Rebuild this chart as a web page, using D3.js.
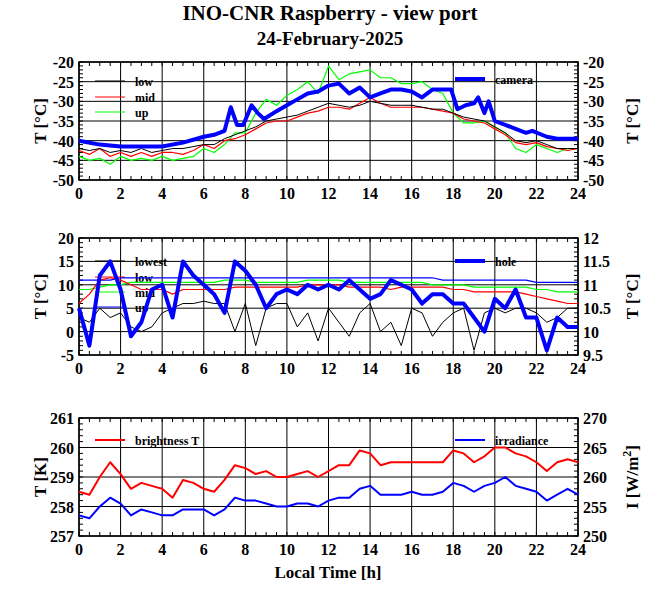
<!DOCTYPE html>
<html><head><meta charset="utf-8">
<script src="https://cdn.jsdelivr.net/npm/d3@7.9.0/dist/d3.min.js"></script>
<style>body{margin:0;background:#fff}text{font-family:"Liberation Serif","DejaVu Serif",serif;font-weight:bold}</style>
</head><body><svg id="c" width="660" height="595"></svg>
<script>
const hours = d3.range(0, 24.01, 0.5);

// panel 1: view port temperatures [°C]
const vpLow = [-42,-42.5,-42,-43,-42.5,-43,-42,-43,-42.5,-42,-42,-41.5,-41,-41,-39.5,-38.5,-37.5,-36.5,-35,-34.5,-34,-33.5,-32.5,-31.5,-30.5,-31,-31.5,-31,-30,-30.5,-31,-31,-31,-31.5,-32,-32,-33,-34,-34.5,-35,-36.5,-38,-40,-40.5,-40,-41,-42,-42,-42];
const vpMid = [-42.5,-43.5,-42,-44,-43,-44,-43,-44,-43,-43,-43.5,-42.5,-41,-42,-40,-39.5,-38.5,-37,-35.5,-35,-35,-34,-33,-32.5,-31.5,-31.5,-32,-30.5,-29,-30.5,-31.5,-31.5,-31.5,-31.5,-32,-32.5,-33,-34.5,-35,-35.5,-37,-38.5,-40.5,-41,-40.5,-41.5,-42,-42.5,-42];
const vpUp = [-44,-45,-44.5,-46,-44,-45,-44.5,-45,-44,-45,-44.5,-44,-42,-43,-41,-38,-38,-33,-29.5,-31,-28.5,-27,-25,-28,-21,-24.5,-23,-22.5,-22,-24,-24,-25.5,-25.5,-25,-27,-28,-33,-35.5,-35.5,-35,-36.5,-38,-42,-43,-41,-42,-43,-42,-42];
const camHours = [0,1,2,3,4,5,6,6.5,7,7.3,7.6,7.9,8.3,8.6,8.9,9.5,10,10.5,11,11.5,12,12.5,13,13.5,14,14.5,15,15.5,16,16.5,17,17.5,17.9,18.2,18.6,19,19.2,19.5,19.7,20,20.5,21,21.5,21.8,22.5,23,24];
const camera = [-40,-41,-41.5,-41.5,-41.5,-40.5,-39,-38.5,-37.5,-31.5,-36,-36,-31,-33,-34.5,-32.5,-31,-29.5,-28,-27.5,-26,-25.5,-28,-26.5,-29,-28,-27,-27,-27.5,-29,-27,-27,-27,-32,-31,-30.5,-29,-33,-30,-35,-36,-37,-38,-37.5,-39,-39.5,-39.5];

// panel 2: housing temperatures [°C], hole on right axis
const hsLowest = [3,2,5,3,4,1,0,1,4,5,6,6,6.5,6,6,0,6,-3,5,6,6,1,4,-2,5,2,-1,4,6,0,2,-3,5,4,-1,2,4,5,-4,4,5,4,5,5,4,2,3,5,5];
const hsLow = [6,8,11,11.5,11,10,9,9,9,8,9,9,9,9,9,9.5,9.5,9.5,9.5,9.5,9.5,9.5,10,10,10,10,9.5,9.5,9.5,9.5,9,9.5,9.5,9.5,9.5,9.5,9,9,8.5,8.5,8.5,8.5,8.5,8,7.5,7,6.5,6,6];
const hsMid = [9,9,9.5,10,10,10.5,10.5,10.5,10.5,10.5,10.5,10.5,10.5,10.5,11,11,11,10.5,10.5,10.5,10.5,10.5,11,11,11,11,10.5,10.5,10.5,10.5,10.5,10.5,10.5,10.5,10,10,10,10,9.5,9.5,9.5,9.5,9.5,9.5,9,9,8.5,8.5,8.5];
const hsUp = [11,11,11,11,11.5,11.5,11.5,11.5,11.5,11.5,11.5,11.5,11.5,11.5,11.5,11.5,11.5,11.5,11.5,11.5,11.5,11.5,11.5,11.5,11.5,11.5,11.5,11.5,11.5,11.5,11.5,11.5,11.5,11.5,11.5,11,11,11,11,11,11,11,11,11,10.5,10.5,10.5,10.5,10.5];
const hole = [10.5,9.7,11.2,11.5,10.9,9.9,10.2,10.9,11.0,10.3,11.5,11.2,11.0,10.8,10.4,11.5,11.3,11.0,10.5,10.8,10.9,10.8,11.0,10.9,11.0,10.9,11.1,10.9,10.7,10.8,11.1,11.0,10.9,10.6,10.8,10.8,10.6,10.6,10.3,10.0,10.7,10.5,10.9,10.3,10.3,9.6,10.3,10.1,10.1];

// panel 3: radiometer
const brightT = [258.5,258.4,259.0,259.5,259.1,258.6,258.8,258.7,258.6,258.3,258.9,258.8,258.6,258.5,258.9,259.4,259.3,259.1,259.2,259.0,259.0,259.1,259.2,259.0,259.2,259.4,259.4,259.9,259.8,259.4,259.5,259.5,259.5,259.5,259.5,259.5,259.9,259.8,259.5,259.7,260.0,260.0,259.8,259.7,259.5,259.2,259.5,259.6,259.5];
const irradiance = [253.5,253,255,256.5,255.5,253.5,254.5,254,253.5,253.5,254.5,254.5,254.5,253.5,254.5,256.5,256,256,255.5,255,255,255.5,255.5,255,256,256.5,256.5,258,258.5,257,257,257,257.5,257,257,257.5,259,258.5,257.5,258.5,259,260,258.5,258,257.5,256,257,258,257];

const xTicks = d3.range(0, 25, 2);
const svg = d3.select('#c');
const L = 79, R = 578;
const x = d3.scaleLinear().domain([0, 24]).range([L, R]);

svg.append('text').attr('x', 330).attr('y', 20).attr('text-anchor', 'middle').attr('font-size', 21).text('INO-CNR Raspberry - view port');
svg.append('text').attr('x', 330).attr('y', 45).attr('text-anchor', 'middle').attr('font-size', 19).text('24-February-2025');

function panel(top, bot, yl, yr, lStep, rStep, lMinor, rMinor, lLabel, rLabel) {
  const g = svg.append('g');
  const y = d3.scaleLinear().domain(yl).range([bot, top]);
  const y2 = d3.scaleLinear().domain(yr).range([bot, top]);
  // grid
  xTicks.forEach(t => g.append('line').attr('x1', x(t)).attr('x2', x(t)).attr('y1', top).attr('y2', bot).attr('stroke', '#000').attr('stroke-width', 1));
  d3.range(yl[0], yl[1] + 1e-6, lStep).forEach(t => g.append('line').attr('x1', L).attr('x2', R).attr('y1', y(t)).attr('y2', y(t)).attr('stroke', '#000'));
  // minor ticks
  d3.range(0, 24.01, 0.5).forEach(t => {
    g.append('line').attr('x1', x(t)).attr('x2', x(t)).attr('y1', bot).attr('y2', bot - 4).attr('stroke', '#000');
    g.append('line').attr('x1', x(t)).attr('x2', x(t)).attr('y1', top).attr('y2', top + 4).attr('stroke', '#000');
  });
  d3.range(yl[0], yl[1] + 1e-6, lMinor).forEach(t => g.append('line').attr('x1', L).attr('x2', L + 4).attr('y1', y(t)).attr('y2', y(t)).attr('stroke', '#000'));
  d3.range(yr[0], yr[1] + 1e-6, rMinor).forEach(t => g.append('line').attr('x1', R).attr('x2', R - 4).attr('y1', y2(t)).attr('y2', y2(t)).attr('stroke', '#000'));
  g.append('rect').attr('x', L).attr('y', top).attr('width', R - L).attr('height', bot - top).attr('fill', 'none').attr('stroke', '#000').attr('stroke-width', 1.5);
  // labels
  xTicks.forEach(t => g.append('text').attr('x', x(t)).attr('y', bot + 19).attr('text-anchor', 'middle').attr('font-size', 16).text(t));
  d3.range(yl[0], yl[1] + 1e-6, lStep).forEach(t => g.append('text').attr('x', L - 5).attr('y', y(t) + 6).attr('text-anchor', 'end').attr('font-size', 16).text(t));
  d3.range(yr[0], yr[1] + 1e-6, rStep).forEach(t => g.append('text').attr('x', R + 5).attr('y', y2(t) + 6).attr('font-size', 16).text(+t.toFixed(1)));
  const mid = (top + bot) / 2;
  g.append('text').attr('transform', `translate(46,${mid}) rotate(-90)`).attr('text-anchor', 'middle').attr('font-size', 17).text(lLabel);
  const rl = g.append('text').attr('transform', `translate(638,${mid}) rotate(-90)`).attr('text-anchor', 'middle').attr('font-size', 17);
  if (rLabel === 'I') {
    rl.append('tspan').text('I [W/m');
    rl.append('tspan').attr('dy', -7).attr('font-size', 12).text('2');
    rl.append('tspan').attr('dy', 7).text(']');
  } else rl.text(rLabel);
  return { g, y, y2 };
}

function legend(g, x0, yy, color, w, label) {
  g.append('line').attr('x1', x0).attr('x2', x0 + 30).attr('y1', yy).attr('y2', yy).attr('stroke', color).attr('stroke-width', w);
  g.append('text').attr('x', x0 + 40).attr('y', yy + 5).attr('font-size', 12).text(label);
}

function series(g, xs, ys, yScale, color, w) {
  const line = d3.line().x((d, i) => x(xs[i])).y(d => yScale(d));
  g.append('path').attr('d', line(ys)).attr('fill', 'none').attr('stroke', color).attr('stroke-width', w).attr('stroke-linejoin', 'round');
}

// panel 1
const p1 = panel(62, 180, [-50, -20], [-50, -20], 5, 5, 1, 1, 'T [°C]', 'T [°C]');
legend(p1.g, 95, 81, '#000', 1, 'low');
legend(p1.g, 95, 97, '#f00', 1, 'mid');
legend(p1.g, 95, 112, '#0f0', 1, 'up');
legend(p1.g, 455, 79, '#00f', 4, 'camera');
series(p1.g, hours, vpUp, p1.y, '#0f0', 1.2);
series(p1.g, hours, vpMid, p1.y, '#f00', 1.2);
series(p1.g, hours, vpLow, p1.y, '#000', 1);
series(p1.g, camHours, camera, p1.y, '#00f', 4);

// panel 2
const p2 = panel(238, 355, [-5, 20], [9.5, 12], 5, 0.5, 1, 0.1, 'T [°C]', 'T [°C]');
legend(p2.g, 95, 261, '#000', 1, 'lowest');
legend(p2.g, 95, 277, '#f00', 1, 'low');
legend(p2.g, 95, 292, '#0f0', 1, 'mid');
legend(p2.g, 95, 307, '#00f', 1, 'up');
legend(p2.g, 455, 261, '#00f', 4, 'hole');
series(p2.g, hours, hsUp, p2.y, '#00f', 1.2);
series(p2.g, hours, hsMid, p2.y, '#0f0', 1.2);
series(p2.g, hours, hsLow, p2.y, '#f00', 1.2);
series(p2.g, hours, hsLowest, p2.y, '#000', 1);
series(p2.g, hours, hole, p2.y2, '#00f', 4);

// panel 3
const p3 = panel(418, 536, [257, 261], [250, 270], 1, 5, 0.2, 1, 'T [K]', 'I');
legend(p3.g, 95, 440, '#f00', 2, 'brightness T');
legend(p3.g, 455, 440, '#00f', 2, 'irradiance');
series(p3.g, hours, brightT, p3.y, '#f00', 2);
series(p3.g, hours, irradiance, p3.y2, '#00f', 2);
svg.append('text').attr('x', 328).attr('y', 578).attr('text-anchor', 'middle').attr('font-size', 17).text('Local Time [h]');
</script></body></html>
